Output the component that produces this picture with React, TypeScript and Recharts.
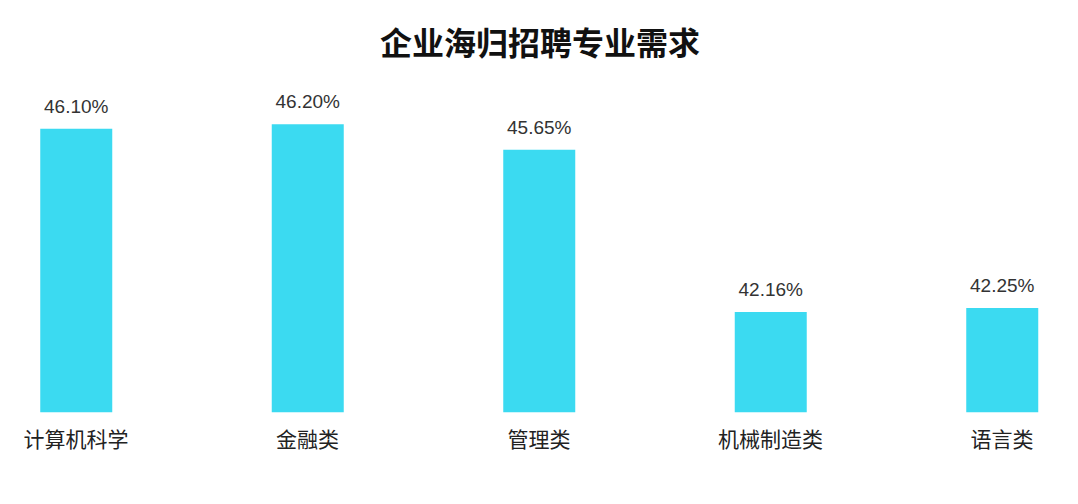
import React from "react";
import { BarChart, Bar, XAxis, YAxis, LabelList } from "recharts";

const categories = ["计算机科学", "金融类", "管理类", "机械制造类", "语言类"];
const values = [46.1, 46.2, 45.65, 42.16, 42.25];
const valueLabels = ["46.10%", "46.20%", "45.65%", "42.16%", "42.25%"];
const title = "企业海归招聘专业需求";

const data = categories.map((c, i) => ({ idx: i, name: c, value: values[i], label: valueLabels[i] }));

const CategoryTick = (props: any) => {
  const { x, y, payload } = props;
  return (
    <text
      x={x}
      y={y + 34}
      textAnchor="middle"
      fill="#222"
      fontSize={21}
      fontFamily="'Noto Sans CJK SC', sans-serif"
    >
      {categories[payload.value]}
    </text>
  );
};

const ValueLabel = (props: any) => {
  const { x, y, width, index } = props;
  return (
    <text
      x={x + width / 2}
      y={y - 16}
      textAnchor="middle"
      fill="#333"
      fontSize={19}
      fontFamily="'Liberation Sans', Arial, sans-serif"
    >
      {valueLabels[index]}
    </text>
  );
};

export default function App() {
  return (
    <div style={{ position: "absolute", left: 0, top: 0, width: 1078, height: 504, background: "#fff" }}>
      <div
        style={{
          position: "absolute",
          left: 0,
          width: 1080,
          top: 25,
          textAlign: "center",
          fontFamily: "'Noto Sans CJK SC', sans-serif",
          fontWeight: 700,
          fontSize: 32,
          lineHeight: "32px",
          color: "#111",
        }}
      >
        {title}
      </div>
      <BarChart width={1078} height={504} data={data} margin={{ top: 40.5, right: 0, bottom: 61.5, left: 0 }}>
        <XAxis
          dataKey="idx"
          type="number"
          domain={[-0.3283, 4.3283]}
          ticks={[0, 1, 2, 3, 4]}
          allowDataOverflow
          axisLine={false}
          tickLine={false}
          tickSize={0}
          tickMargin={0}
          height={30}
          interval={0}
          tick={<CategoryTick />}
        />
        <YAxis hide domain={[40, 48]} allowDataOverflow />
        <Bar dataKey="value" fill="#3bdaf1" barSize={72} isAnimationActive={false}>
          <LabelList dataKey="label" content={<ValueLabel />} />
        </Bar>
      </BarChart>
    </div>
  );
}
